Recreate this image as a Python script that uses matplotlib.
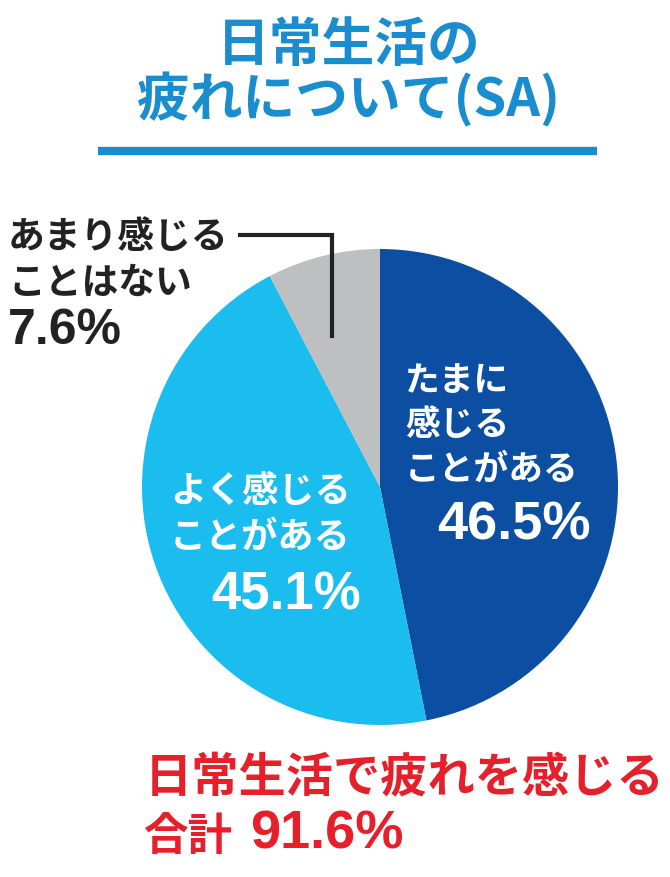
import matplotlib.pyplot as plt

plt.rcParams['font.family'] = ['Noto Sans CJK JP', 'DejaVu Sans']

# data
labels = ['たまに\n感じる\nことがある', 'よく感じる\nことがある', 'あまり感じる\nことはない']
values = [46.5, 45.1, 7.6]
colors = ['#0c4ea2', '#1bbdef', '#bdbfc1']
total_label = '日常生活で疲れを感じる'
total_value = values[0] + values[1]

W, H = 670, 878
fig = plt.figure(figsize=(W / 100, H / 100), dpi=100)
ax = fig.add_axes([0, 0, 1, 1])
ax.set_xlim(0, W)
ax.set_ylim(0, H)
ax.set_aspect('equal')
ax.axis('off')

def Y(y):
    # pixel row from top -> data y
    return H - y

num_font = ['Liberation Sans', 'DejaVu Sans']

# title
blue = '#1a8dcf'
ax.text(349, Y(45), '日常生活の', ha='center', va='center', fontsize=38,
        fontweight='bold', color=blue)
ax.text(349, Y(100), '疲れについて(SA)', ha='center', va='center', fontsize=38,
        fontweight='bold', color=blue)
ax.plot([98, 597], [Y(152), Y(152)], color=blue, lw=6, solid_capstyle='butt')

# pie
ax.pie(values, colors=colors, startangle=90, counterclock=False,
       center=(380, Y(488)), radius=238, wedgeprops=dict(linewidth=0))
ax.set_xlim(0, W)
ax.set_ylim(0, H)

# leader line for small slice
ax.plot([240, 332, 332], [Y(236), Y(236), Y(337)], color='#222222', lw=3,
        solid_joinstyle='miter')

# slice labels
ax.text(405, Y(425), labels[0], ha='left', va='center', fontsize=25,
        fontweight='bold', color='white', linespacing=1.35)
ax.text(591, Y(525), f'{values[0]}%', ha='right', va='center', fontsize=39,
        fontweight='bold', color='white', family=num_font)

ax.text(170, Y(514), labels[1], ha='left', va='center', fontsize=26,
        fontweight='bold', color='white', linespacing=1.3)
ax.text(361, Y(595), f'{values[1]}%', ha='right', va='center', fontsize=38,
        fontweight='bold', color='white', family=num_font)

ax.text(8, Y(260), labels[2], ha='left', va='center', fontsize=26.5,
        fontweight='bold', color='#222222', linespacing=1.3)
ax.text(8, Y(331), f'{values[2]}%', ha='left', va='center', fontsize=36,
        fontweight='bold', color='#222222', family=num_font)

# total
red = '#e6202b'
ax.text(145, Y(778), total_label, ha='left', va='center', fontsize=34,
        fontweight='bold', color=red)
ax.text(143, Y(837), '合計', ha='left', va='center', fontsize=32,
        fontweight='bold', color=red)
ax.text(250, Y(835), f'{total_value:.1f}%', ha='left', va='center', fontsize=39,
        fontweight='bold', color=red, family=num_font)

fig.savefig('out.png', dpi=100)
